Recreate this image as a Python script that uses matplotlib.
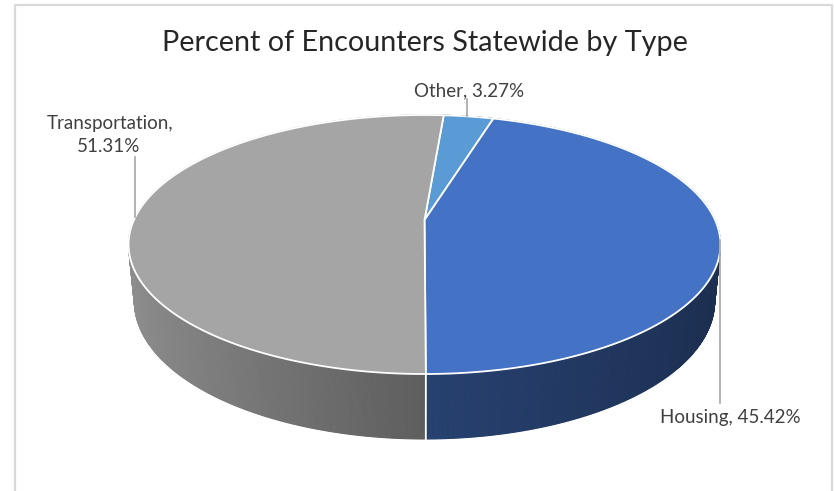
import numpy as np
import matplotlib
matplotlib.use('Agg')
import matplotlib.pyplot as plt
from matplotlib.patches import Polygon
from matplotlib.colors import to_rgb

plt.rcParams['font.family'] = ['Lato', 'DejaVu Sans']

title = 'Percent of Encounters Statewide by Type'
categories = ['Other', 'Housing', 'Transportation']
shares = [3.27, 45.42, 51.31]
top_colors = ['#5b9bd5', '#4472c4', '#a5a5a5']

# camera used to draw the tilted pie (pixel units)
CX, CY = 424.5, 220.0
F = 1387.0
D = 4.773
TILT = np.radians(25.45)
DEPTH = 0.217       # thickness of the pie
START = 85.5        # first slice starts here and runs clockwise


def project(t, z):
    '''
    perspective projection of a point on the unit circle at height z
    '''
    x, y = np.cos(t), np.sin(t)
    d = D + y * np.cos(TILT) - z * np.sin(TILT)
    up = y * np.sin(TILT) + z * np.cos(TILT)
    return CX + F * x / d, CY - F * up / d


def side_color(color, c):
    # darker towards the right side of the wall
    k = np.interp(c, [-1, 0, 1], [0.87, 0.57, 0.40])
    return tuple(np.array(to_rgb(color)) * k)


def draw_pie(ax):
    bounds = START - 360 * np.cumsum([0] + shares) / 100.0
    bounds = np.radians(bounds)

    # side wall, one thin strip at a time, back to front
    strips = []
    for i in range(len(shares)):
        ts = np.linspace(bounds[i], bounds[i + 1], 400)
        for t0, t1 in zip(ts[:-1], ts[1:]):
            tm = (t0 + t1) / 2
            pts = [project(t0, 0), project(t1, 0),
                   project(t1, -DEPTH), project(t0, -DEPTH)]
            strips.append((np.sin(tm), pts, side_color(top_colors[i], np.cos(tm))))
    strips.sort(key=lambda s: -s[0])
    for _, pts, col in strips:
        ax.add_patch(Polygon(pts, closed=True, facecolor=col, edgecolor=col,
                             linewidth=0.8, zorder=2))

    # white seams where slices meet on the wall
    for b in bounds:
        if np.sin(b) < -0.05:
            x0, y0 = project(b, 0)
            x1, y1 = project(b, -DEPTH)
            ax.plot([x0, x1], [y0, y1], color='white', lw=1.3, zorder=3)

    # top faces
    for i in range(len(shares)):
        ts = np.linspace(bounds[i], bounds[i + 1], 300)
        xs, ys = project(ts, 0)
        pts = [(CX, CY)] + list(zip(xs, ys))
        ax.add_patch(Polygon(pts, closed=True, facecolor=top_colors[i],
                             edgecolor='white', linewidth=1.3, zorder=4))


def draw_labels(ax):
    lead = '#a6a6a6'
    txt = '#404040'
    fs = 13.5
    ax.plot([467, 467], [99, 116], color=lead, lw=1.2, zorder=5)
    ax.text(469, 91, '%s, %.2f%%' % (categories[0], shares[0]), ha='center',
            va='center', fontsize=fs, color=txt)

    ax.plot([720, 720], [240, 403], color=lead, lw=1.2, zorder=5)
    ax.text(730, 417, '%s, %.2f%%' % (categories[1], shares[1]), ha='center',
            va='center', fontsize=fs, color=txt)

    ax.plot([135, 135], [157, 217], color=lead, lw=1.2, zorder=5)
    ax.text(110, 123, '%s,' % categories[2], ha='center', va='center',
            fontsize=fs, color=txt)
    ax.text(109, 147, '%.2f%%' % shares[2], ha='center', va='center',
            fontsize=fs, color=txt)


def show_chart():
    fig = plt.figure(figsize=(8.34, 4.91), dpi=100)
    ax = fig.add_axes([0, 0, 1, 1])
    ax.set_xlim(0, 834)
    ax.set_ylim(491, 0)
    ax.axis('off')

    # chart area border
    ax.plot([15, 15, 832, 832], [495, 5, 5, 495], color='#d9d9d9', lw=1.6,
            zorder=1)

    ax.text(425, 43, title, ha='center', va='center', fontsize=20.7,
            color='#262626')

    draw_pie(ax)
    draw_labels(ax)
    fig.savefig('out.png', dpi=100)


if __name__ == '__main__':
    show_chart()
